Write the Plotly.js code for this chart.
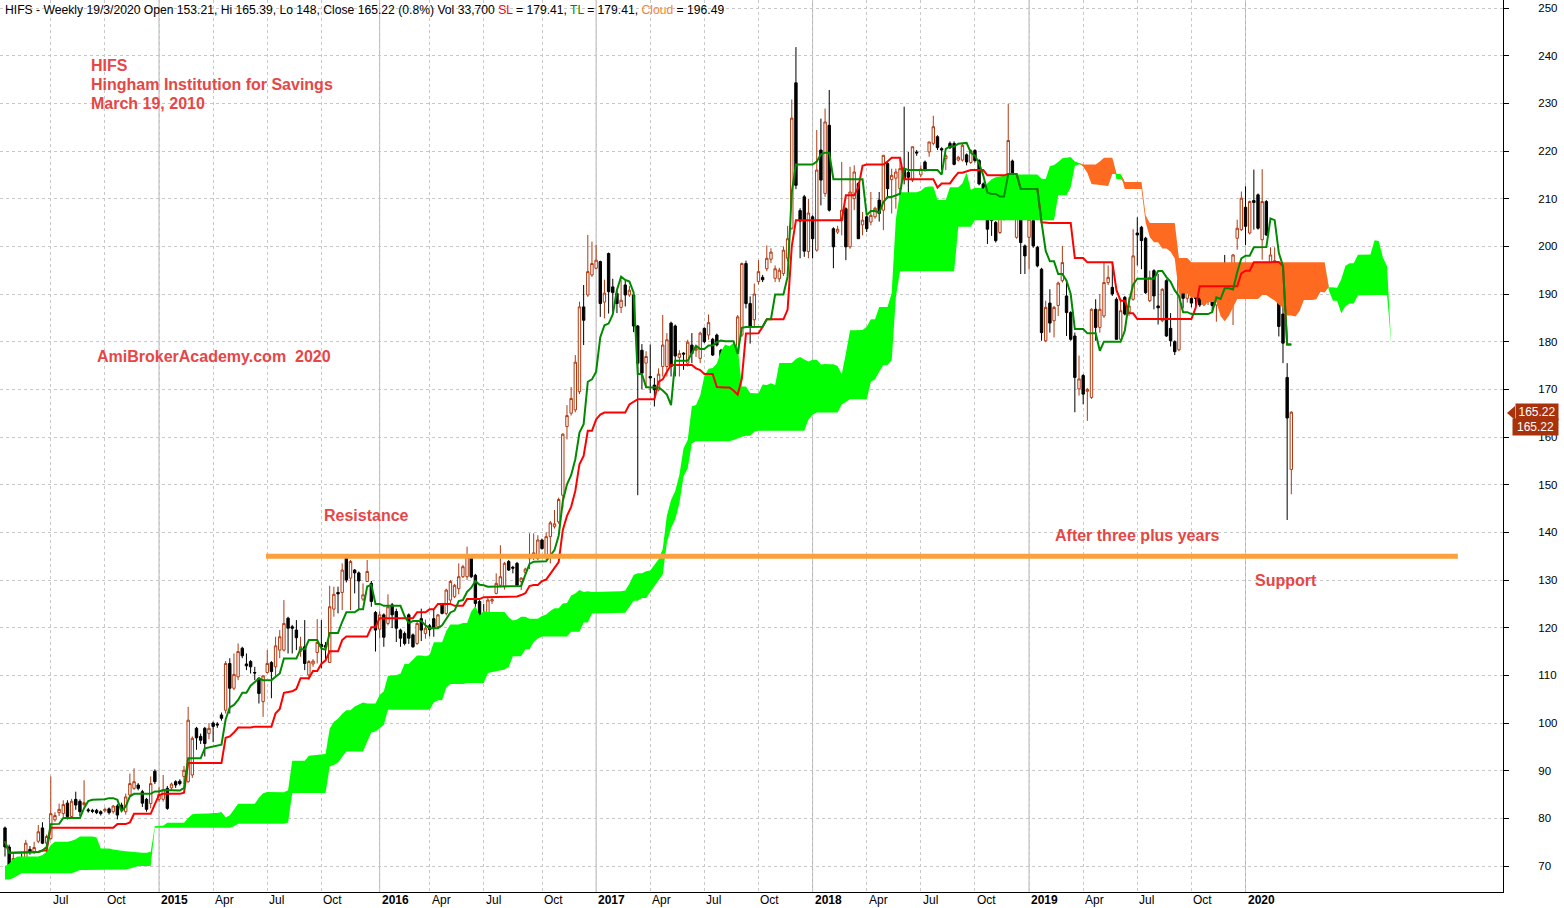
<!DOCTYPE html>
<html>
<head>
<meta charset="utf-8">
<script src="https://cdn.plot.ly/plotly-3.0.1.min.js"></script>
<style>html,body{margin:0;padding:0;background:#fff;}#chart{width:1564px;height:908px;}</style>
</head>
<body>
<div id="chart"></div>
<script>
// ---- Weekly OHLC, HIFS, first bar week ending 2014-04-18, last bar 2020-03-19 ----
const firstBarDate = '2014-04-18';
const open = [
78,74,70.4,70.2,71.6,69.0,73.5,72.9,75.2,78.0,
74.8,75.8,79.7,81.2,81.0,83.2,80.4,84.0,83.6,82.9,
81.8,81.7,81.7,81.4,81.6,82.0,81.4,82.6,82.8,81.4,
84.9,86.3,87.0,85.6,84.0,83.1,89.9,84.0,84.0,86.3,
86.4,87.7,87.8,88.8,87.7,89.1,98.9,97.2,98.9,97.8,
100.0,99.8,101.7,102.7,112.5,107.3,109.7,115.7,112.4,112.9,
110.6,109.4,104.5,110.6,112.7,111.8,115.3,115.3,122.0,120.2,
119.5,115.0,116.0,110.1,112.4,114.8,116.5,116.3,112.7,123.9,
127.4,127.4,134.8,130.4,132.1,131.5,126.0,129.7,129.3,123.2,
119.7,122.7,120.9,124.8,123.4,119.5,118.8,122.7,118.5,116.7,
121.9,118.8,120.4,121.9,120.2,124.8,123.0,125.8,126.5,128.2,
130.7,130.7,134.8,131.0,125.5,123.0,120.5,125.6,127.2,128.9,
128.6,133.9,132.7,133.5,129.7,131.6,134.5,134.9,134.5,138.4,
134.8,139.1,141.2,142.2,147.8,162.2,165.0,165.7,169.5,187.3,
189.8,194.0,195.4,196.8,188.3,198.5,191.5,190.1,187.2,191.9,
189.8,189.8,183.3,178.2,175.5,172.7,170.9,169.9,174.8,174.8,
183.9,183.3,176.7,177.6,175.5,179.3,178.2,176.5,182.8,181.4,
180.5,181.4,178.2,177.5,176.5,176.8,177.5,181.4,196.4,188.0,
184.6,192.6,193.5,195.3,197.3,193.3,193.2,194.3,197.5,203.8,
234.3,207.5,210.4,198.9,206.2,199.2,220.2,211.1,225.4,203.7,
203.0,205.5,207.9,199.9,210.0,213.2,204.5,206.2,205.1,206.2,
209.7,207.6,217.4,214.0,214.3,212.1,216.3,215.5,213.9,219.8,
215.0,217.7,219.8,221.6,223.0,220.5,218.4,221.6,221.6,218.1,
218.1,219.2,217.6,220.1,218.0,213.1,207.1,212.0,205.0,202.9,
207.5,210.3,217.9,201.9,206.4,200.1,201.9,205.4,199.8,195.2,
180.2,188.1,184.4,187.6,192.8,189.6,186.1,181.2,170.1,172.9,
169.6,168.3,186.8,183.0,185.4,192.4,191.4,188.9,180.5,189.3,
186.1,188.9,202.8,204.0,201.7,188.6,194.9,187.5,184.4,192.8,
182.8,180.0,178.3,192.3,189.1,189.1,189.3,189.5,187.8,188.4,
190.4,187.7,190.8,192.5,192.3,188.1,201.7,203.5,208.2,202.8,
209.6,210.8,201.4,209.4,196.1,195.3,194.6,185.8,172.5,153.21
];
const high = [
78.3,74.5,72.6,71.5,72.6,75.5,74.2,75.1,78.6,79.2,
76.6,88.8,81.3,83.1,83.8,83.8,84.1,85.6,84.0,88.0,
82.2,82.0,82.0,81.7,82.3,82.3,82.8,83.0,83.3,85.2,
89.4,90.5,87.4,86.0,84.3,88.8,90.3,86.5,89.1,86.8,
87.5,88.0,88.2,91.0,103.4,97.2,99.2,97.8,99.2,100.0,
100.3,100.2,102.2,113.0,113.6,114.6,116.7,116.0,114.6,113.2,
111.8,109.6,110.0,115.3,113.0,118.1,119.5,125.8,122.3,120.6,
121.6,118.1,121.6,113.2,113.4,121.8,121.6,117.0,128.8,128.6,
128.6,133.5,135.0,134.2,132.3,131.8,129.3,134.2,129.8,123.5,
123.4,123.0,127.0,125.2,124.0,119.8,119.2,123.0,118.8,121.2,
124.0,121.7,120.8,124.0,122.9,125.2,128.2,130.0,129.2,133.5,
133.2,137.0,135.2,131.3,125.8,125.0,126.4,126.5,131.4,137.3,
133.8,134.2,133.0,133.8,130.6,132.6,139.8,139.8,139.4,138.7,
140.0,142.4,144.7,147.3,160.8,166.7,170.5,177.2,188.4,191.9,
202.4,201.0,200.3,197.0,193.0,198.7,193.2,190.8,193.0,193.0,
191.7,190.0,183.5,179.5,178.0,179.4,172.4,174.4,185.6,181.8,
184.2,183.6,178.2,177.8,180.4,181.8,178.9,182.1,183.0,185.7,
180.8,181.7,178.5,177.8,178.2,177.8,185.6,196.6,197.0,189.5,
192.2,197.1,194.0,200.2,199.6,196.0,195.5,200.0,204.3,230.8,
241.8,208.0,210.8,210.0,206.5,224.4,226.8,228.9,232.8,204.0,
204.3,217.7,208.2,216.7,217.0,213.5,207.2,206.5,211.4,208.3,
211.4,219.1,217.7,216.3,216.3,218.4,229.3,219.8,220.9,220.2,
217.0,218.0,221.9,227.4,223.3,220.8,219.4,222.0,222.0,219.0,
221.5,219.5,220.4,220.4,218.3,213.4,207.4,212.3,205.3,212.0,
213.4,229.9,218.2,211.7,213.8,200.4,208.5,205.7,200.1,195.5,
188.6,191.0,187.5,192.6,200.1,192.8,186.4,181.9,177.1,173.2,
170.3,187.0,188.9,190.0,196.6,196.0,196.6,189.3,188.9,189.6,
189.3,203.6,206.1,204.3,202.0,194.9,195.2,194.2,191.2,193.1,
186.0,180.3,193.2,194.4,191.0,191.9,189.8,191.2,188.7,192.0,
193.3,190.7,193.7,198.2,193.0,198.4,205.6,211.5,212.6,209.6,
216.1,211.1,216.2,209.7,199.8,199.8,194.9,190.9,175.5,165.39
];
const low = [
72.0,67.3,69.2,69.5,68.8,68.9,72.4,72.5,74.8,74.6,
71.4,75.5,79.3,80.5,80.3,79.8,80.0,81.8,80.5,82.5,
81.2,81.1,80.9,80.6,81.3,80.8,81.0,79.8,81.5,80.8,
84.5,86.0,85.9,82.4,81.4,82.1,87.2,83.5,83.5,81.8,
86.0,86.4,86.9,87.2,87.5,88.5,94.4,95.6,93.0,96.6,
96.0,99.0,100.5,102.0,102.0,106.9,109.0,113.6,111.1,110.4,
109.0,104.1,101.3,110.4,105.2,109.7,113.6,115.0,114.6,114.6,
115.3,113.9,111.1,109.0,111.8,112.5,111.5,113.2,112.7,122.3,
123.0,123.7,129.5,123.7,127.2,123.7,125.6,129.6,124.4,115.0,
117.8,116.0,120.5,119.9,117.0,116.0,116.3,116.6,115.8,116.4,
117.2,117.7,118.2,118.1,119.8,122.8,122.6,124.9,126.2,127.0,
130.4,130.0,130.4,123.0,121.0,120.8,120.2,125.0,127.0,128.5,
128.0,131.9,131.4,128.7,127.9,131.3,132.3,134.2,134.2,136.4,
134.2,133.5,140.8,141.8,145.0,159.5,164.5,165.2,169.0,179.3,
189.4,193.6,195.2,185.2,184.9,185.9,186.3,186.0,186.0,187.4,
189.4,182.0,147.8,170.0,170.2,169.2,166.4,169.6,172.7,172.7,
172.7,172.7,172.7,174.1,174.8,175.5,176.8,175.5,179.7,180.4,
177.0,179.0,174.8,174.5,174.8,176.5,169.2,181.0,187.0,179.6,
183.0,192.0,192.5,194.8,196.5,192.5,192.5,193.8,196.8,203.5,
212.0,197.5,197.8,197.5,197.5,198.9,208.6,210.4,207.3,195.4,
202.6,202.3,197.1,199.5,207.6,201.6,202.3,203.0,204.4,205.8,
205.2,203.4,210.0,206.9,207.9,210.4,213.0,202.7,213.5,219.0,
214.5,215.7,218.8,221.2,220.2,216.0,216.0,220.4,217.0,217.8,
217.8,217.0,217.3,217.6,212.8,207.8,200.5,202.2,200.8,202.6,
205.4,209.9,209.9,201.6,194.2,194.2,195.2,199.7,195.6,180.2,
179.9,181.9,180.9,185.4,192.4,181.2,180.2,165.2,168.7,166.9,
163.4,168.0,180.2,181.9,185.0,191.9,189.6,180.5,180.3,185.5,
185.4,188.6,196.0,195.2,190.0,188.3,186.8,183.6,184.1,181.0,
179.0,177.2,178.0,187.0,188.2,187.2,187.0,187.3,187.5,187.7,
186.3,184.2,190.5,187.7,188.5,183.5,199.3,203.2,200.3,202.5,
203.5,203.5,197.2,202.2,195.5,194.8,181.1,175.5,142.6,148
];
const close = [
74,68.8,71.6,71.6,70.7,74.8,72.9,73.9,77.2,74.8,
76.2,81.0,80.6,81.9,82.9,80.4,83.6,82.8,81.4,83.3,
81.6,81.5,81.2,81.0,81.9,81.2,82.6,80.7,81.8,84.5,
87.3,87.7,86.3,83.2,81.9,87.3,87.7,85.0,86.0,82.1,
87.2,87.0,87.3,90.1,100.6,96.8,96.9,96.4,95.7,98.9,
99.3,99.6,101.0,112.5,107.3,110.2,115.0,114.1,112.0,111.8,
110.5,106.2,109.9,112.5,110.8,116.2,118.1,120.9,119.9,119.9,
117.9,116.0,112.5,112.9,113.0,116.9,116.0,115.9,124.4,127.0,
127.1,132.1,130.0,133.9,131.5,129.8,126.9,131.8,125.5,119.5,
122.7,118.0,124.4,122.7,119.9,117.8,116.7,117.8,116.0,120.9,
119.5,119.9,119.6,119.9,122.7,123.0,127.9,129.7,128.9,130.7,
132.8,134.9,130.7,125.1,122.0,121.3,125.8,125.9,129.3,130.7,
133.5,132.1,132.5,128.9,130.4,132.3,135.2,135.7,138.4,136.6,
139.1,142.0,141.8,146.9,160.6,164.5,168.1,175.7,187.3,184.5,
194.7,196.4,197.1,188.0,190.2,190.5,190.3,188.0,188.7,189.8,
190.8,183.3,175.5,173.4,176.9,172.4,169.9,173.2,179.3,180.4,
174.8,177.0,177.5,177.4,179.9,177.5,178.6,181.8,180.0,184.0,
177.2,179.3,175.8,174.8,177.9,177.3,185.2,196.4,188.0,183.2,
190.0,194.7,193.0,197.5,198.8,195.3,195.0,199.2,201.6,226.9,
212.8,205.3,199.0,207.0,201.6,216.0,213.9,226.1,207.6,199.9,
203.6,207.6,199.9,211.4,215.6,201.6,205.5,203.7,206.5,208.0,
206.9,219.1,212.1,214.9,215.6,216.3,214.2,214.5,220.9,219.6,
216.2,216.0,221.9,225.1,220.7,220.2,219.0,220.7,217.2,218.7,
221.2,217.7,220.1,218.0,213.1,208.2,203.6,205.4,201.2,211.0,
211.7,222.2,212.4,206.1,200.8,198.0,205.7,200.1,195.9,181.9,
187.2,183.9,187.2,192.3,196.6,186.1,180.5,172.5,172.2,169.0,
170.0,186.8,183.0,186.8,192.4,193.5,190.0,180.5,186.5,185.8,
187.5,198.0,202.4,201.2,190.3,193.5,189.6,187.1,191.0,181.2,
180.2,177.9,193.0,189.1,190.5,188.1,189.1,187.7,188.4,191.9,
187.6,190.5,191.2,191.8,189.8,198.2,203.8,210.1,204.2,209.4,
209.2,203.8,209.4,202.4,198.2,197.0,183.2,179.7,164.0,165.22
];
// Cloud values at the left edge that come from history before the first visible bar
const earlySpanA = [70.0,70.5,71.5,72.0,72.0,72.0,72.0,72.0,72.0,72.3,73.0,74.4,75.1,75.1,75.1,75.1,75.3,75.6,76.2,76.2,76.2,76.2,76.0,73.7,73.7,73.7,73.5,73.3,73.2,73.1,73.0,73.0,72.9,72.8,72.8,73.0];
const earlySpanB = [67.2,67.2,67.5,68.0,68.5,68.5,68.5,68.5,68.5,68.5,68.5,68.5,68.5,68.5,68.5,68.5,68.5,68.8,69.2,69.2,69.2,69.2,69.2,69.2,69.2,69.3,69.3,69.3,69.3,69.3,69.5,69.8,70.0,70.0,70.0,70.0];
// Axis labels: first weekly bar of each quarter
const gridDates = ['2014-07-03','2014-10-03','2015-01-02','2015-04-02','2015-07-02','2015-10-02','2016-01-08','2016-04-01','2016-07-01','2016-10-07','2017-01-06','2017-04-07','2017-07-07','2017-10-06','2018-01-05','2018-04-06','2018-07-06','2018-10-05','2019-01-04','2019-04-05','2019-07-05','2019-10-04','2020-01-03'];
const gridLabels = ['Jul','Oct','2015','Apr','Jul','Oct','2016','Apr','Jul','Oct','2017','Apr','Jul','Oct','2018','Apr','Jul','Oct','2019','Apr','Jul','Oct','2020'];
const priceTicks = [70,80,90,100,110,120,130,140,150,160,170,180,190,200,210,220,230,240,250];
const supportLevel = 135;
const supportFrom = '2015-07-02', supportTo = '2020-12-25';
const lastClose = 165.22;

// ---- derived ----
const N = open.length;
const idx = Array.from({length: N}, (_, i) => i);
const WEEK = 7 * 86400000;
const t0 = Date.parse(firstBarDate);
const weekIndex = d => Math.round((Date.parse(d) - t0) / WEEK);

function midpoint(i, n) {
  let hh = -Infinity, ll = Infinity;
  for (let k = Math.max(0, i - n + 1); k <= i; k++) { hh = Math.max(hh, high[k]); ll = Math.min(ll, low[k]); }
  return (hh + ll) / 2;
}
const tenkan = idx.map(i => midpoint(i, 9));
const kijun = idx.map(i => midpoint(i, 26));
const SHIFT = 25;
const cloudX = [], spanA = [], spanB = [];
for (let j = 0; j < N + SHIFT; j++) {
  cloudX.push(j);
  if (j < earlySpanA.length) { spanA.push(earlySpanA[j]); spanB.push(earlySpanB[j]); }
  else { const s = j - SHIFT; spanA.push((tenkan[s] + kijun[s]) / 2); spanB.push(midpoint(s, 52)); }
}
const cloudTop = spanA.map((a, j) => Math.max(a, spanB[j]));

const GREEN = '#00ff00', ORANGE = '#ff6a21';
const traces = [
  {type:'scatter', mode:'lines', x: cloudX, y: spanB, line:{width:0, color:GREEN}, hoverinfo:'skip', showlegend:false},
  {type:'scatter', mode:'lines', x: cloudX, y: cloudTop, fill:'tonexty', fillcolor:GREEN, line:{width:0, color:GREEN}, hoverinfo:'skip', showlegend:false},
  {type:'scatter', mode:'lines', x: cloudX, y: spanA, line:{width:0, color:ORANGE}, hoverinfo:'skip', showlegend:false},
  {type:'scatter', mode:'lines', x: cloudX, y: cloudTop, fill:'tonexty', fillcolor:ORANGE, line:{width:0, color:ORANGE}, hoverinfo:'skip', showlegend:false},
  {type:'candlestick', x: idx, open: open, high: high, low: low, close: close,
   increasing:{line:{color:'#b03a12', width:1}, fillcolor:'#ffffff'},
   decreasing:{line:{color:'#000000', width:1}, fillcolor:'#000000'},
   whiskerwidth:0, showlegend:false, hoverinfo:'skip'},
  {type:'scatter', mode:'lines', x: idx, y: kijun, line:{color:'#ff0000', width:2}, showlegend:false, hoverinfo:'skip'},
  {type:'scatter', mode:'lines', x: idx, y: tenkan, line:{color:'#008a00', width:2}, showlegend:false, hoverinfo:'skip'}
];

const PW = 1503, PH = 892;
const px = v => v / PW, py = v => 1 - v / PH;
const gridIdx = gridDates.map(weekIndex);
const shapes = [];
gridLabels.forEach((lab, k) => {
  if (/^\d{4}$/.test(lab)) shapes.push({type:'line', xref:'x', yref:'paper', x0:gridIdx[k], x1:gridIdx[k], y0:0, y1:1, line:{color:'#b4b4b4', width:1}, layer:'below'});
});
shapes.push({type:'line', xref:'x', yref:'y', x0: weekIndex(supportFrom) - 0.3, x1: weekIndex(supportTo), y0: supportLevel, y1: supportLevel, line:{color:'#faa03c', width:5}, layer:'above'});
// pointer for last price label
shapes.push({type:'path', xref:'paper', yref:'paper', path:`M ${px(1507)} ${py(413)} L ${px(1515)} ${py(406)} L ${px(1515)} ${py(420)} Z`, fillcolor:'#a8320c', line:{width:0}});

const RED = '#e64646';
const redFont = {family:'Liberation Sans, Arial, sans-serif', size:16, color:RED, weight:'bold'};
const annotations = [
  {xref:'paper', yref:'paper', x:px(3), y:py(1), xanchor:'left', yanchor:'top', showarrow:false,
   text:'HIFS - Weekly 19/3/2020 Open 153.21, Hi 165.39, Lo 148, Close 165.22 (0.8%) Vol 33,700 <span style="color:#ff0000">SL</span> = 179.41, <span style="color:#008a00">TL</span> = 179.41, <span style="color:#ff7f27">Cloud</span> = 196.49',
   font:{family:'Liberation Sans, Arial, sans-serif', size:12.15, color:'#000'}},
  {xref:'paper', yref:'paper', x:px(89), y:py(65), xanchor:'left', yanchor:'middle', showarrow:false, text:'<b>HIFS</b>', font:redFont},
  {xref:'paper', yref:'paper', x:px(89), y:py(84), xanchor:'left', yanchor:'middle', showarrow:false, text:'<b>Hingham Institution for Savings</b>', font:redFont},
  {xref:'paper', yref:'paper', x:px(89), y:py(103), xanchor:'left', yanchor:'middle', showarrow:false, text:'<b>March 19, 2010</b>', font:redFont},
  {xref:'paper', yref:'paper', x:px(95), y:py(356), xanchor:'left', yanchor:'middle', showarrow:false, text:'<b>AmiBrokerAcademy.com  2020</b>', font:redFont},
  {xref:'paper', yref:'paper', x:px(322), y:py(515), xanchor:'left', yanchor:'middle', showarrow:false, text:'<b>Resistance</b>', font:redFont},
  {xref:'paper', yref:'paper', x:px(1053), y:py(535), xanchor:'left', yanchor:'middle', showarrow:false, text:'<b>After three plus years</b>', font:redFont},
  {xref:'paper', yref:'paper', x:px(1253), y:py(580), xanchor:'left', yanchor:'middle', showarrow:false, text:'<b>Support</b>', font:redFont},
  {xref:'paper', yref:'y', x:px(1515), y:lastClose, xanchor:'left', yanchor:'middle', showarrow:false, text:lastClose.toFixed(2),
   bgcolor:'#a8320c', borderpad:1, width:40, font:{family:'Liberation Sans, Arial, sans-serif', size:12, color:'#fff'}},
  {xref:'paper', yref:'y', x:px(1512), y:lastClose, yshift:-15, xanchor:'left', yanchor:'middle', showarrow:false, text:lastClose.toFixed(2),
   bgcolor:'#a8320c', borderpad:1, width:43, font:{family:'Liberation Sans, Arial, sans-serif', size:12, color:'#fff'}}
];
gridLabels.forEach((lab, k) => {
  const isYear = /^\d{4}$/.test(lab);
  annotations.push({xref:'x', yref:'paper', x:gridIdx[k], y:0, xanchor:'left', yanchor:'top', xshift:0, yshift:1, showarrow:false,
    text: isYear ? '<b>' + lab + '</b>' : lab, font:{family:'Liberation Sans, Arial, sans-serif', size:12, color:'#000'}});
});

const layout = {
  width:1564, height:908,
  margin:{l:0, r:61, t:0, b:16, pad:0},
  paper_bgcolor:'#ffffff', plot_bgcolor:'#ffffff',
  showlegend:false, hovermode:false,
  boxgap:0.18,
  xaxis:{type:'linear', range:[-1.2, 359.85], tickmode:'array', tickvals:gridIdx, showticklabels:false, ticks:'',
         showgrid:true, gridcolor:'#c8c8c8', griddash:'dot', gridwidth:1, zeroline:false,
         showline:true, linecolor:'#000', linewidth:1, rangeslider:{visible:false}, fixedrange:true},
  yaxis:{side:'right', range:[64.56, 251.68], tickmode:'array', tickvals:priceTicks, ticktext:priceTicks.map(String),
         showgrid:true, gridcolor:'#c8c8c8', griddash:'dot', gridwidth:1, zeroline:false,
         showline:true, linecolor:'#000', linewidth:1, ticks:'outside', ticklen:5, tickcolor:'#000',
         ticklabelstandoff:27, tickfont:{family:'Liberation Sans, Arial, sans-serif', size:11.5, color:'#000'}, fixedrange:true},
  shapes: shapes,
  annotations: annotations
};
Plotly.newPlot('chart', traces, layout, {displayModeBar:false, staticPlot:true});
</script>
</body>
</html>
